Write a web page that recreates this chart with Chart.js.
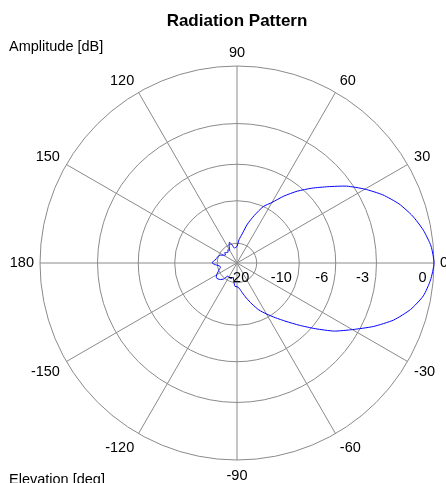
<!DOCTYPE html>
<html>
<head>
<meta charset="utf-8">
<script src="https://cdn.jsdelivr.net/npm/chart.js@4/dist/chart.umd.min.js"></script>
<style>
  html, body { margin: 0; padding: 0; background: #fff; }
  canvas { display: block; }
</style>
</head>
<body>
<canvas id="polar" width="446" height="483"></canvas>
<script>
// categories run clockwise from 0 deg, the way the radar scale walks them with startAngle 90
const elevationDeg = [
    0, -5, -10, -15, -20, -25, -30, -35, -40, -45, -50, -55, -60, -65, -70, -75, -80, -85,
    -90, -95, -100, -105, -110, -115, -120, -125, -130, -135, -140, -145, -150, -155, -160, -165, -170, -175,
    180, 175, 170, 165, 160, 155, 150, 145, 140, 135, 130, 125, 120, 115, 110, 105, 100, 95,
    90, 85, 80, 75, 70, 65, 60, 55, 50, 45, 40, 35, 30, 25, 20, 15, 10, 5
];
const amplitudeDb = [
    0, -0.12, -0.35, -0.8, -1.45, -2.35, -3.4, -4.4, -5.7, -7.0, -8.25, -9.4, -10.5, -11.6, -13.1, -14.7, -16.3, -17.8,
    -18.4, -18.5, -20.5, -22.6, -21.5, -21.5, -21.7, -21.8, -19.5, -18.5, -18.0, -17.8, -18.5, -19.5, -20.3, -21.2, -21.0, -19.3,
    -18.0, -18.5, -19.3, -19.5, -20.0, -20.5, -22.0, -23.0, -21.8, -22.5, -23.0, -21.8, -22.5, -20.5, -19.0, -20.5, -22.3, -22.0,
    -21.5, -18.5, -16.5, -13.8, -11.8, -10.0, -9.0, -7.65, -6.45, -5.4, -4.4, -3.35, -2.5, -1.75, -1.15, -0.7, -0.35, -0.1
];
const ringDb = [-20, -10, -6, -3, 0];
const spokeStep = 30;

const font = "'Liberation Sans', Arial, sans-serif";
const polar = document.getElementById('polar');
const polarCtx = polar.getContext('2d');

const dbToAmp = db => Math.pow(10, db / 20);

const textPlugin = {
    id: 'polarText',
    afterDraw(chart) {
        const ctx = chart.ctx;
        const r = chart.scales.r;
        ctx.save();
        ctx.fillStyle = '#000';

        ctx.font = 'bold 17px ' + font;
        ctx.textAlign = 'center';
        ctx.textBaseline = 'alphabetic';
        ctx.fillText('Radiation Pattern', r.xCenter, 26);

        ctx.font = '14.5px ' + font;
        ctx.textAlign = 'left';
        ctx.fillText('Amplitude [dB]', 9, 51);
        ctx.fillText('Elevation [deg]', 9, 484);

        // angle labels round the outside
        elevationDeg.forEach((e, i) => {
            if (e % spokeStep !== 0) return;
            const a = e * Math.PI / 180;
            const c = Math.cos(a);
            const s = Math.sin(a);
            const p = r.getPointPosition(i, r.drawingArea + 6 + 3 * Math.abs(s));
            ctx.textAlign = Math.abs(c) < 0.01 ? 'center' : (c > 0 ? 'left' : 'right');
            let y = p.y;
            if (Math.abs(s) < 0.01) {
                ctx.textBaseline = 'middle';
            } else {
                ctx.textBaseline = 'alphabetic';
                if (s < 0) y += 10.5;
            }
            ctx.fillText(String(e), p.x, y);
        });

        // ring labels along the 0 deg spoke
        ctx.textAlign = 'right';
        ctx.textBaseline = 'alphabetic';
        ringDb.forEach(db => {
            const d = r.getDistanceFromCenterForValue(dbToAmp(db));
            ctx.fillText(String(db), r.xCenter + d - 7.5, r.yCenter + 19);
        });
        ctx.restore();
    }
};

new Chart(polarCtx, {
    type: 'radar',
    data: {
        labels: elevationDeg,
        datasets: [
            {
                label: 'Pattern',
                data: amplitudeDb.map(dbToAmp),
                borderColor: '#0000ff',
                borderWidth: 1,
                pointRadius: 0,
                fill: false,
                tension: 0.2
            }
        ]
    },
    options: {
        responsive: false,
        animation: false,
        layout: {
            padding: { left: 40, right: 12, top: 66, bottom: 23 }
        },
        plugins: {
            legend: { display: false },
            tooltip: { enabled: false },
            title: { display: false }
        },
        scales: {
            r: {
                min: 0,
                max: 1,
                startAngle: 90,
                afterBuildTicks(scale) {
                    scale.ticks = [0].concat(ringDb.map(dbToAmp)).map(v => ({ value: v }));
                },
                ticks: { display: false },
                pointLabels: { display: false },
                grid: {
                    circular: true,
                    color: '#8a8a8a',
                    lineWidth: 1
                },
                angleLines: {
                    color: '#8a8a8a',
                    lineWidth: ctx => (elevationDeg[ctx.index] % spokeStep === 0 ? 1 : 0)
                }
            }
        }
    },
    plugins: [textPlugin]
});
</script>
</body>
</html>
